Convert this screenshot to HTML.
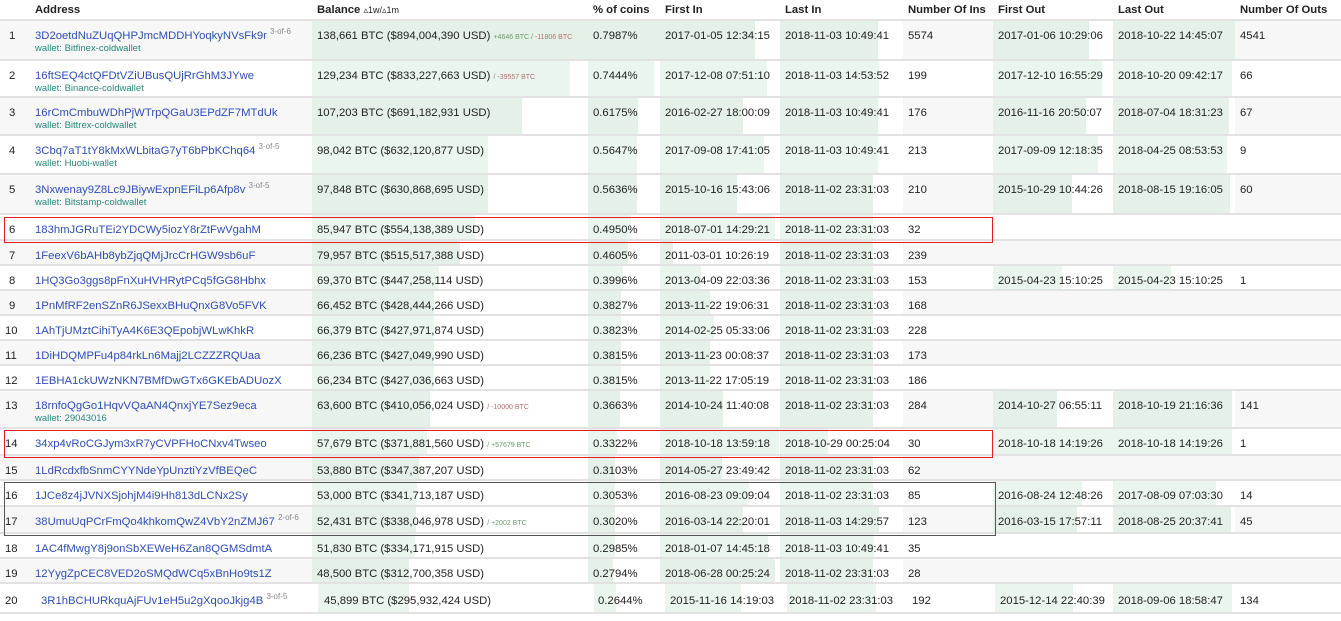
<!DOCTYPE html>
<html><head><meta charset="utf-8"><style>
body{margin:0;width:1341px;height:621px;overflow:hidden;background:#fff;font-family:"Liberation Sans",Arial,sans-serif;font-size:11.3px;color:#222;position:relative}
table{border-collapse:collapse;table-layout:fixed;width:1341px;position:absolute;left:0;top:0}
td,th{padding:8px 0 0 5px;vertical-align:top;line-height:14px;white-space:nowrap;overflow:hidden;text-align:left}
th{font-weight:bold;height:16px;padding-top:3px;border-bottom:2px solid #e2e2e2}
tr.o td{background-color:#f7f7f7}
tr td{border-bottom:2px solid #e2e2e2}
td.n{padding-left:9px}
a{color:#2f4fb5;text-decoration:none}
.w{color:#26877a;font-size:9.5px;line-height:12px;display:block}
sup{color:#888;font-size:8px;vertical-align:5px;line-height:0}
.d{font-size:7px;color:#6a9a6a}.r{color:#b07070}
.box{position:absolute;border:1px solid #e02020;box-sizing:border-box}
</style></head><body>
<table>
<colgroup><col style="width:30px"><col style="width:282px"><col style="width:276px"><col style="width:72px"><col style="width:120px"><col style="width:123px"><col style="width:90px"><col style="width:120px"><col style="width:122px"><col style="width:106px"></colgroup>
<tr><th></th><th>Address</th><th>Balance <span style="font-weight:normal;font-size:9px">&#x25B5;1w/&#x25B5;1m</span></th><th>% of coins</th><th>First In</th><th>Last In</th><th>Number Of Ins</th><th>First Out</th><th>Last Out</th><th>Number Of Outs</th></tr>
<tr class="o" style="height:40px"><td class="n">1</td><td><a>3D2oetdNuZUqQHPJmcMDDHYoqkyNVsFk9r</a> <sup>3-of-6</sup><span class="w">wallet: Bitfinex-coldwallet</span></td><td style="background:linear-gradient(90deg,#e5f1e8 276px,transparent 0)">138,661 BTC ($894,004,390 USD) <span class="d">+4646 BTC / </span><span class="d r">-11806 BTC</span></td><td style="background:linear-gradient(90deg,#e5f1e8 72px,transparent 0)">0.7987%</td><td style="background:linear-gradient(90deg,#e5f1e8 95px,transparent 0)">2017-01-05 12:34:15</td><td style="background:linear-gradient(90deg,#e5f1e8 98px,transparent 0)">2018-11-03 10:49:41</td><td>5574</td><td style="background:linear-gradient(90deg,#e5f1e8 96px,transparent 0)">2017-01-06 10:29:06</td><td style="background:linear-gradient(90deg,#e5f1e8 123px,transparent 0)">2018-10-22 14:45:07</td><td>4541</td></tr>
<tr style="height:37px"><td class="n">2</td><td><a>16ftSEQ4ctQFDtVZiUBusQUjRrGhM3JYwe</a><span class="w">wallet: Binance-coldwallet</span></td><td style="background:linear-gradient(90deg,#eaf6ed 258px,transparent 0)">129,234 BTC ($833,227,663 USD) <span class="d r">/ -39557 BTC</span></td><td style="background:linear-gradient(90deg,#eaf6ed 66px,transparent 0)">0.7444%</td><td style="background:linear-gradient(90deg,#eaf6ed 107px,transparent 0)">2017-12-08 07:51:10</td><td style="background:linear-gradient(90deg,#eaf6ed 99px,transparent 0)">2018-11-03 14:53:52</td><td>199</td><td style="background:linear-gradient(90deg,#eaf6ed 109px,transparent 0)">2017-12-10 16:55:29</td><td style="background:linear-gradient(90deg,#eaf6ed 119px,transparent 0)">2018-10-20 09:42:17</td><td>66</td></tr>
<tr class="o" style="height:38px"><td class="n">3</td><td><a>16rCmCmbuWDhPjWTrpQGaU3EPdZF7MTdUk</a><span class="w">wallet: Bittrex-coldwallet</span></td><td style="background:linear-gradient(90deg,#e5f1e8 210px,transparent 0)">107,203 BTC ($691,182,931 USD)</td><td style="background:linear-gradient(90deg,#e5f1e8 50px,transparent 0)">0.6175%</td><td style="background:linear-gradient(90deg,#e5f1e8 83px,transparent 0)">2016-02-27 18:00:09</td><td style="background:linear-gradient(90deg,#e5f1e8 98px,transparent 0)">2018-11-03 10:49:41</td><td>176</td><td style="background:linear-gradient(90deg,#e5f1e8 93px,transparent 0)">2016-11-16 20:50:07</td><td style="background:linear-gradient(90deg,#e5f1e8 116px,transparent 0)">2018-07-04 18:31:23</td><td>67</td></tr>
<tr style="height:39px"><td class="n">4</td><td><a>3Cbq7aT1tY8kMxWLbitaG7yT6bPbKChq64</a> <sup>3-of-5</sup><span class="w">wallet: Huobi-wallet</span></td><td style="background:linear-gradient(90deg,#eaf6ed 176px,transparent 0)">98,042 BTC ($632,120,877 USD)</td><td style="background:linear-gradient(90deg,#eaf6ed 49px,transparent 0)">0.5647%</td><td style="background:linear-gradient(90deg,#eaf6ed 104px,transparent 0)">2017-09-08 17:41:05</td><td style="background:linear-gradient(90deg,#eaf6ed 98px,transparent 0)">2018-11-03 10:49:41</td><td>213</td><td style="background:linear-gradient(90deg,#eaf6ed 105px,transparent 0)">2017-09-09 12:18:35</td><td style="background:linear-gradient(90deg,#eaf6ed 114px,transparent 0)">2018-04-25 08:53:53</td><td>9</td></tr>
<tr class="o" style="height:40px"><td class="n">5</td><td><a>3Nxwenay9Z8Lc9JBiywExpnEFiLp6Afp8v</a> <sup>3-of-5</sup><span class="w">wallet: Bitstamp-coldwallet</span></td><td style="background:linear-gradient(90deg,#e5f1e8 176px,transparent 0)">97,848 BTC ($630,868,695 USD)</td><td style="background:linear-gradient(90deg,#e5f1e8 49px,transparent 0)">0.5636%</td><td style="background:linear-gradient(90deg,#e5f1e8 77px,transparent 0)">2015-10-16 15:43:06</td><td style="background:linear-gradient(90deg,#e5f1e8 93px,transparent 0)">2018-11-02 23:31:03</td><td>210</td><td style="background:linear-gradient(90deg,#e5f1e8 79px,transparent 0)">2015-10-29 10:44:26</td><td style="background:linear-gradient(90deg,#e5f1e8 117px,transparent 0)">2018-08-15 19:16:05</td><td>60</td></tr>
<tr style="height:26px"><td class="n">6</td><td><a>183hmJGRuTEi2YDCWy5iozY8rZtFwVgahM</a></td><td style="background:linear-gradient(90deg,#eaf6ed 163px,transparent 0)">85,947 BTC ($554,138,389 USD)</td><td style="background:linear-gradient(90deg,#eaf6ed 43px,transparent 0)">0.4950%</td><td style="background:linear-gradient(90deg,#eaf6ed 115px,transparent 0)">2018-07-01 14:29:21</td><td style="background:linear-gradient(90deg,#eaf6ed 93px,transparent 0)">2018-11-02 23:31:03</td><td>32</td><td></td><td></td><td></td></tr>
<tr class="o" style="height:25px"><td class="n">7</td><td><a>1FeexV6bAHb8ybZjqQMjJrcCrHGW9sb6uF</a></td><td style="background:linear-gradient(90deg,#e5f1e8 148px,transparent 0)">79,957 BTC ($515,517,388 USD)</td><td style="background:linear-gradient(90deg,#e5f1e8 40px,transparent 0)">0.4605%</td><td style="background:linear-gradient(90deg,#e5f1e8 13px,transparent 0)">2011-03-01 10:26:19</td><td style="background:linear-gradient(90deg,#e5f1e8 93px,transparent 0)">2018-11-02 23:31:03</td><td>239</td><td></td><td></td><td></td></tr>
<tr style="height:25px"><td class="n">8</td><td><a>1HQ3Go3ggs8pFnXuHVHRytPCq5fGG8Hbhx</a></td><td style="background:linear-gradient(90deg,#eaf6ed 127px,transparent 0)">69,370 BTC ($447,258,114 USD)</td><td style="background:linear-gradient(90deg,#eaf6ed 35px,transparent 0)">0.3996%</td><td style="background:linear-gradient(90deg,#eaf6ed 41px,transparent 0)">2013-04-09 22:03:36</td><td style="background:linear-gradient(90deg,#eaf6ed 93px,transparent 0)">2018-11-02 23:31:03</td><td>153</td><td style="background:linear-gradient(90deg,#eaf6ed 69px,transparent 0)">2015-04-23 15:10:25</td><td style="background:linear-gradient(90deg,#eaf6ed 58px,transparent 0)">2015-04-23 15:10:25</td><td>1</td></tr>
<tr class="o" style="height:25px"><td class="n">9</td><td><a>1PnMfRF2enSZnR6JSexxBHuQnxG8Vo5FVK</a></td><td style="background:linear-gradient(90deg,#e5f1e8 122px,transparent 0)">66,452 BTC ($428,444,266 USD)</td><td style="background:linear-gradient(90deg,#e5f1e8 33px,transparent 0)">0.3827%</td><td style="background:linear-gradient(90deg,#e5f1e8 50px,transparent 0)">2013-11-22 19:06:31</td><td style="background:linear-gradient(90deg,#e5f1e8 93px,transparent 0)">2018-11-02 23:31:03</td><td>168</td><td></td><td></td><td></td></tr>
<tr style="height:25px"><td class="n" style="padding-left:5px">10</td><td><a>1AhTjUMztCihiTyA4K6E3QEpobjWLwKhkR</a></td><td style="background:linear-gradient(90deg,#eaf6ed 122px,transparent 0)">66,379 BTC ($427,971,874 USD)</td><td style="background:linear-gradient(90deg,#eaf6ed 33px,transparent 0)">0.3823%</td><td style="background:linear-gradient(90deg,#eaf6ed 54px,transparent 0)">2014-02-25 05:33:06</td><td style="background:linear-gradient(90deg,#eaf6ed 93px,transparent 0)">2018-11-02 23:31:03</td><td>228</td><td></td><td></td><td></td></tr>
<tr class="o" style="height:25px"><td class="n" style="padding-left:5px">11</td><td><a>1DiHDQMPFu4p84rkLn6Majj2LCZZZRQUaa</a></td><td style="background:linear-gradient(90deg,#e5f1e8 122px,transparent 0)">66,236 BTC ($427,049,990 USD)</td><td style="background:linear-gradient(90deg,#e5f1e8 33px,transparent 0)">0.3815%</td><td style="background:linear-gradient(90deg,#e5f1e8 50px,transparent 0)">2013-11-23 00:08:37</td><td style="background:linear-gradient(90deg,#e5f1e8 93px,transparent 0)">2018-11-02 23:31:03</td><td>173</td><td></td><td></td><td></td></tr>
<tr style="height:25px"><td class="n" style="padding-left:5px">12</td><td><a>1EBHA1ckUWzNKN7BMfDwGTx6GKEbADUozX</a></td><td style="background:linear-gradient(90deg,#eaf6ed 122px,transparent 0)">66,234 BTC ($427,036,663 USD)</td><td style="background:linear-gradient(90deg,#eaf6ed 33px,transparent 0)">0.3815%</td><td style="background:linear-gradient(90deg,#eaf6ed 50px,transparent 0)">2013-11-22 17:05:19</td><td style="background:linear-gradient(90deg,#eaf6ed 93px,transparent 0)">2018-11-02 23:31:03</td><td>186</td><td></td><td></td><td></td></tr>
<tr class="o" style="height:38px"><td class="n" style="padding-left:5px">13</td><td><a>18rnfoQgGo1HqvVQaAN4QnxjYE7Sez9eca</a><span class="w">wallet: 29043016</span></td><td style="background:linear-gradient(90deg,#e5f1e8 118px,transparent 0)">63,600 BTC ($410,056,024 USD) <span class="d r">/ -10000 BTC</span></td><td style="background:linear-gradient(90deg,#e5f1e8 32px,transparent 0)">0.3663%</td><td style="background:linear-gradient(90deg,#e5f1e8 63px,transparent 0)">2014-10-24 11:40:08</td><td style="background:linear-gradient(90deg,#e5f1e8 93px,transparent 0)">2018-11-02 23:31:03</td><td>284</td><td style="background:linear-gradient(90deg,#e5f1e8 64px,transparent 0)">2014-10-27 06:55:11</td><td style="background:linear-gradient(90deg,#e5f1e8 119px,transparent 0)">2018-10-19 21:16:36</td><td>141</td></tr>
<tr style="height:27px"><td class="n" style="padding-left:5px">14</td><td><a>34xp4vRoCGJym3xR7yCVPFHoCNxv4Twseo</a></td><td style="background:linear-gradient(90deg,#eaf6ed 115px,transparent 0)">57,679 BTC ($371,881,560 USD) <span class="d">/ +57679 BTC</span></td><td style="background:linear-gradient(90deg,#eaf6ed 29px,transparent 0)">0.3322%</td><td style="background:linear-gradient(90deg,#eaf6ed 119px,transparent 0)">2018-10-18 13:59:18</td><td style="background:linear-gradient(90deg,#eaf6ed 48px,transparent 0)">2018-10-29 00:25:04</td><td>30</td><td style="background:linear-gradient(90deg,#eaf6ed 120px,transparent 0)">2018-10-18 14:19:26</td><td style="background:linear-gradient(90deg,#eaf6ed 119px,transparent 0)">2018-10-18 14:19:26</td><td>1</td></tr>
<tr class="o" style="height:25px"><td class="n" style="padding-left:5px">15</td><td><a>1LdRcdxfbSnmCYYNdeYpUnztiYzVfBEQeC</a></td><td style="background:linear-gradient(90deg,#e5f1e8 107px,transparent 0)">53,880 BTC ($347,387,207 USD)</td><td style="background:linear-gradient(90deg,#e5f1e8 27px,transparent 0)">0.3103%</td><td style="background:linear-gradient(90deg,#e5f1e8 62px,transparent 0)">2014-05-27 23:49:42</td><td style="background:linear-gradient(90deg,#e5f1e8 93px,transparent 0)">2018-11-02 23:31:03</td><td>62</td><td></td><td></td><td></td></tr>
<tr style="height:26px"><td class="n" style="padding-left:5px">16</td><td><a>1JCe8z4jJVNXSjohjM4i9Hh813dLCNx2Sy</a></td><td style="background:linear-gradient(90deg,#eaf6ed 105px,transparent 0)">53,000 BTC ($341,713,187 USD)</td><td style="background:linear-gradient(90deg,#eaf6ed 27px,transparent 0)">0.3053%</td><td style="background:linear-gradient(90deg,#eaf6ed 89px,transparent 0)">2016-08-23 09:09:04</td><td style="background:linear-gradient(90deg,#eaf6ed 93px,transparent 0)">2018-11-02 23:31:03</td><td>85</td><td style="background:linear-gradient(90deg,#eaf6ed 89px,transparent 0)">2016-08-24 12:48:26</td><td style="background:linear-gradient(90deg,#eaf6ed 103px,transparent 0)">2017-08-09 07:03:30</td><td>14</td></tr>
<tr class="o" style="height:27px"><td class="n" style="padding-left:5px">17</td><td><a>38UmuUqPCrFmQo4khkomQwZ4VbY2nZMJ67</a> <sup>2-of-6</sup></td><td style="background:linear-gradient(90deg,#e5f1e8 104px,transparent 0)">52,431 BTC ($338,046,978 USD) <span class="d">/ +2002 BTC</span></td><td style="background:linear-gradient(90deg,#e5f1e8 27px,transparent 0)">0.3020%</td><td style="background:linear-gradient(90deg,#e5f1e8 83px,transparent 0)">2016-03-14 22:20:01</td><td style="background:linear-gradient(90deg,#e5f1e8 99px,transparent 0)">2018-11-03 14:29:57</td><td>123</td><td style="background:linear-gradient(90deg,#e5f1e8 84px,transparent 0)">2016-03-15 17:57:11</td><td style="background:linear-gradient(90deg,#e5f1e8 118px,transparent 0)">2018-08-25 20:37:41</td><td>45</td></tr>
<tr style="height:25px"><td class="n" style="padding-left:5px">18</td><td><a>1AC4fMwgY8j9onSbXEWeH6Zan8QGMSdmtA</a></td><td style="background:linear-gradient(90deg,#eaf6ed 103px,transparent 0)">51,830 BTC ($334,171,915 USD)</td><td style="background:linear-gradient(90deg,#eaf6ed 27px,transparent 0)">0.2985%</td><td style="background:linear-gradient(90deg,#eaf6ed 108px,transparent 0)">2018-01-07 14:45:18</td><td style="background:linear-gradient(90deg,#eaf6ed 94px,transparent 0)">2018-11-03 10:49:41</td><td>35</td><td></td><td></td><td></td></tr>
<tr class="o" style="height:25px"><td class="n" style="padding-left:5px">19</td><td><a>12YygZpCEC8VED2oSMQdWCq5xBnHo9ts1Z</a></td><td style="background:linear-gradient(90deg,#e5f1e8 97px,transparent 0)">48,500 BTC ($312,700,358 USD)</td><td style="background:linear-gradient(90deg,#e5f1e8 25px,transparent 0)">0.2794%</td><td style="background:linear-gradient(90deg,#e5f1e8 115px,transparent 0)">2018-06-28 00:25:24</td><td style="background:linear-gradient(90deg,#e5f1e8 93px,transparent 0)">2018-11-02 23:31:03</td><td>28</td><td></td><td></td><td></td></tr>
<tr style="height:30px"><td class="n" style="padding-left:5px;padding-top:10px">20</td><td style="padding:10px 0 0 11px"><a>3R1hBCHURkquAjFUv1eH5u2gXqooJkjg4B</a> <sup>3-of-5</sup></td><td style="padding:10px 0 0 12px;background:linear-gradient(90deg,transparent 6px,#eaf6ed 6px,#eaf6ed 97px,transparent 0)">45,899 BTC ($295,932,424 USD)</td><td style="padding:10px 0 0 10px;background:linear-gradient(90deg,transparent 6px,#eaf6ed 6px,#eaf6ed 28px,transparent 0)">0.2644%</td><td style="padding:10px 0 0 10px;background:linear-gradient(90deg,transparent 5px,#eaf6ed 5px,#eaf6ed 81px,transparent 0)">2015-11-16 14:19:03</td><td style="padding:10px 0 0 9px;background:linear-gradient(90deg,transparent 7px,#eaf6ed 7px,#eaf6ed 96px,transparent 0)">2018-11-02 23:31:03</td><td style="padding:10px 0 0 9px">192</td><td style="padding:10px 0 0 7px;background:linear-gradient(90deg,transparent 2px,#eaf6ed 2px,#eaf6ed 80px,transparent 0)">2015-12-14 22:40:39</td><td style="padding:10px 0 0 5px;background:linear-gradient(90deg,#eaf6ed 119px,transparent 0)">2018-09-06 18:58:47</td><td style="padding-top:10px">134</td></tr>
</table>
<div class="box" style="left:4px;top:217px;width:989px;height:26px"></div>
<div class="box" style="left:4px;top:430px;width:989px;height:28px"></div>
<div class="box" style="left:4px;top:482px;width:992px;height:54px;border-color:#555"></div>
</body></html>
